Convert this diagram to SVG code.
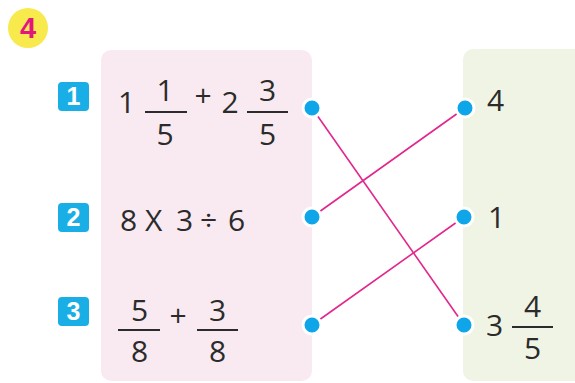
<svg xmlns="http://www.w3.org/2000/svg" width="575" height="383" viewBox="0 0 575 383">
<style>
.t{font-family:"Open Sans","Noto Sans",sans-serif;font-size:30px;fill:#2b2b2b}
.m{text-anchor:middle}
.bar{stroke:#2b2b2b;stroke-width:2}
.badge{fill:#19afe6}
.bt{font-family:"Liberation Sans",Arial,sans-serif;font-weight:bold;font-size:25px;fill:#fff;text-anchor:middle}
.dot{fill:#0ea5e9;stroke:#fff;stroke-width:3}
.ln{stroke:#e3268c;stroke-width:1.6;fill:none}
</style>
<rect x="0" y="0" width="575" height="383" fill="#fff"/>
<g id="title">
<circle cx="28" cy="28" r="20" fill="#f8e94c"/>
<text x="28" y="38" font-family="Liberation Sans,Arial,sans-serif" font-weight="bold" font-size="29" fill="#e2167f" text-anchor="middle">4</text>
</g>
<g id="left-panel"><rect x="101" y="50" width="211" height="331" rx="10" fill="#f9eaf1"/></g>
<g id="right-panel"><rect x="463" y="49" width="130" height="332" rx="10" fill="#f0f4e5"/></g>
<g id="connectors">
<line class="ln" x1="312" y1="108" x2="464" y2="325"/>
<line class="ln" x1="312" y1="217" x2="465" y2="108"/>
<line class="ln" x1="312" y1="325" x2="464" y2="217"/>
</g>
<g id="q1">
<rect class="badge" x="58" y="82" width="31" height="29" rx="4"/>
<text class="bt" x="73.5" y="105">1</text>
<text class="t m" x="126.5" y="113">1</text>
<text class="t m" x="165" y="101">1</text>
<line class="bar" x1="145" y1="112" x2="187" y2="112"/>
<text class="t m" x="165" y="145">5</text>
<text class="t m" x="203" y="106">+</text>
<text class="t m" x="230" y="113">2</text>
<text class="t m" x="267.5" y="101">3</text>
<line class="bar" x1="247" y1="112" x2="288" y2="112"/>
<text class="t m" x="267.5" y="145">5</text>
<circle class="dot" cx="312" cy="108" r="9"/>
</g>
<g id="q2">
<rect class="badge" x="58" y="203" width="31" height="29" rx="4"/>
<text class="bt" x="73.5" y="226">2</text>
<text class="t" y="231"><tspan x="120">8</tspan><tspan x="145">X</tspan><tspan x="176">3</tspan><tspan x="200">÷</tspan><tspan x="228">6</tspan></text>
<circle class="dot" cx="312" cy="217" r="9"/>
</g>
<g id="q3">
<rect class="badge" x="58" y="297" width="31" height="29" rx="4"/>
<text class="bt" x="73.5" y="320">3</text>
<text class="t m" x="139.5" y="321">5</text>
<line class="bar" x1="118" y1="330" x2="160" y2="330"/>
<text class="t m" x="139.5" y="362">8</text>
<text class="t m" x="178" y="326">+</text>
<text class="t m" x="217.5" y="321">3</text>
<line class="bar" x1="197" y1="330" x2="238" y2="330"/>
<text class="t m" x="217.5" y="362">8</text>
<circle class="dot" cx="312" cy="325" r="9"/>
</g>
<g id="a1">
<circle class="dot" cx="465" cy="108" r="9"/>
<text class="t" x="487" y="111">4</text>
</g>
<g id="a2">
<circle class="dot" cx="464" cy="217" r="9"/>
<text class="t" x="488" y="228">1</text>
</g>
<g id="a3">
<circle class="dot" cx="464" cy="325" r="9"/>
<text class="t m" x="494.5" y="336">3</text>
<text class="t m" x="532.5" y="317">4</text>
<line class="bar" x1="512" y1="327" x2="553" y2="327"/>
<text class="t m" x="532.5" y="359">5</text>
</g>
</svg>
